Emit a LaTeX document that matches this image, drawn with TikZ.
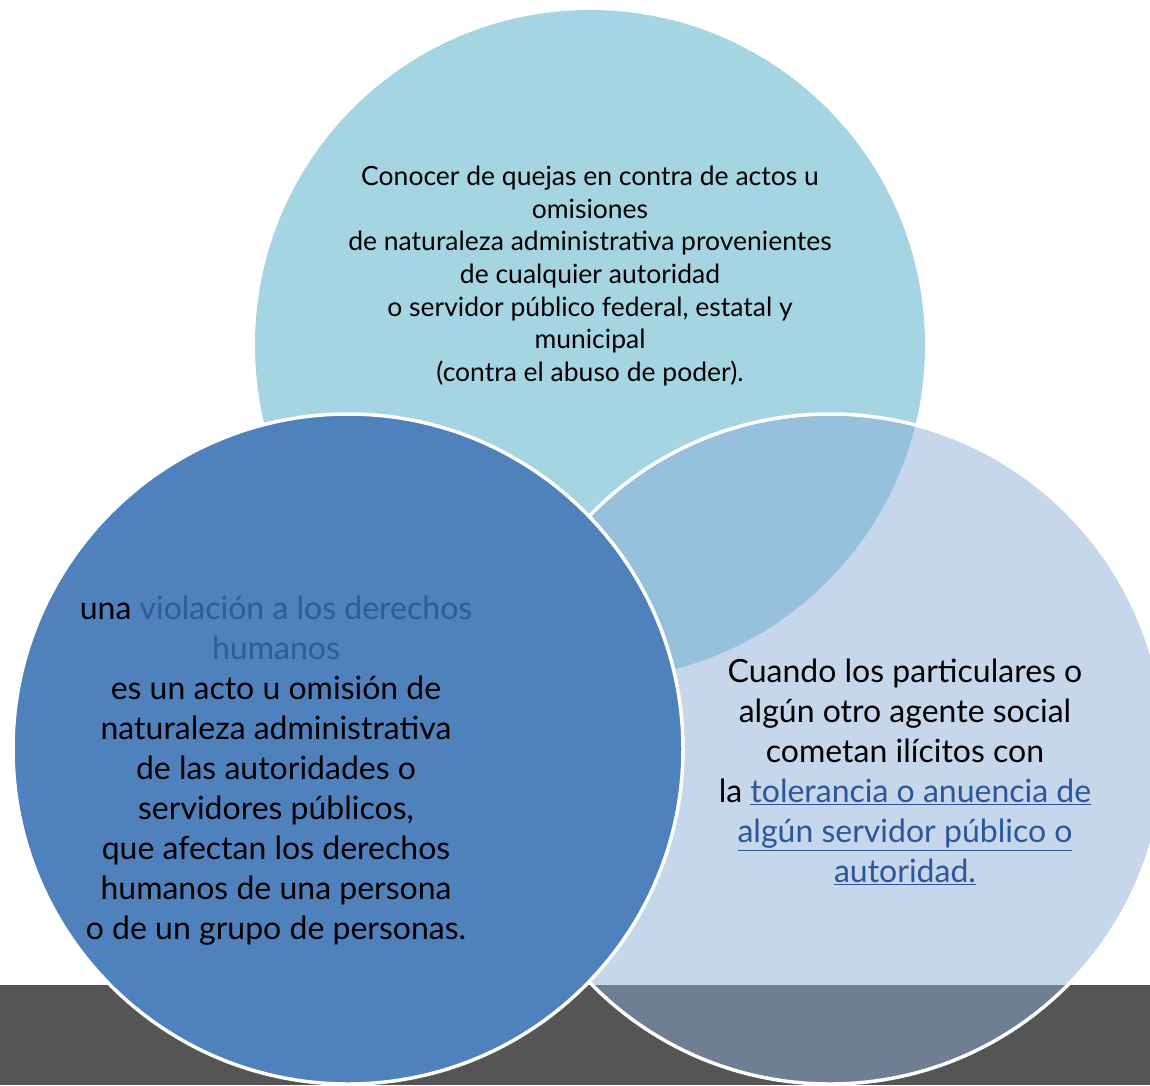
\documentclass[tikz,border=0pt]{standalone}
\usepackage{fontspec}
\setmainfont{Lato}
\definecolor{topblue}{HTML}{A5D5E2}
\definecolor{leftblue}{HTML}{4F81BD}
\definecolor{rightblue}{RGB}{138,171,215}
\definecolor{bandgray}{HTML}{555555}
\definecolor{linkblue}{HTML}{2B579A}
\definecolor{violblue}{HTML}{2E5C93}
\begin{document}
\begin{tikzpicture}[x=1pt,y=-1pt,
  bubble/.style={circle, minimum size=670pt, inner sep=0pt},
  toptxt/.style={align=center, text=black, font=\fontsize{26.5}{32.7}\selectfont},
  bigtxt/.style={align=center, text=black, font=\fontsize{32}{40}\selectfont},
]
\useasboundingbox (0,0) rectangle (1150,1085);
\fill[bandgray] (0,985) rectangle (1150,1085);
\node[bubble, fill=topblue] (topc) at (590,345) {};
\node[bubble, fill=rightblue, fill opacity=0.49, draw=white, line width=3.5pt] (rightc) at (830,749) {};
\node[bubble, fill=leftblue, draw=white, line width=3.5pt] (leftc) at (348,749) {};
\node[toptxt] (toptext) at (590,276) {Conocer de quejas en contra de actos u\\omisiones\\de naturaleza administrativa provenientes\\de cualquier autoridad\\o servidor público federal, estatal y\\municipal\\(contra el abuso de poder).};
\node[bigtxt] (lefttext) at (276,771) {una \textcolor{violblue}{violación a los derechos}\\\textcolor{violblue}{humanos}\\es un acto u omisión de\\naturaleza administrativa\\de las autoridades o\\servidores públicos,\\que afectan los derechos\\humanos de una persona\\o de un grupo de personas.};
\node[bigtxt] (righttext) at (905,772) {Cuando los particulares o\\algún otro agente social\\cometan ilícitos con\\la \textcolor{linkblue}{\underline{tolerancia o anuencia de}}\\\textcolor{linkblue}{\underline{algún servidor público o}}\\\textcolor{linkblue}{\underline{autoridad.}}};
\end{tikzpicture}
\end{document}
